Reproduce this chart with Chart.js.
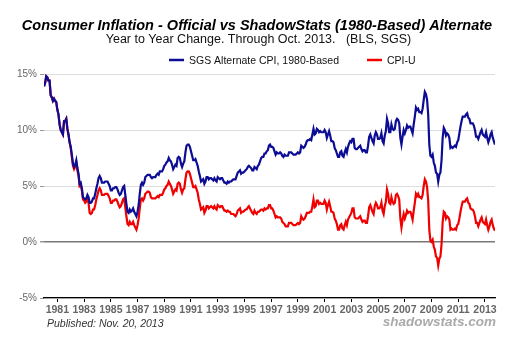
<!DOCTYPE html>
<html>
<head>
<meta charset="utf-8">
<script src="https://cdn.jsdelivr.net/npm/chart.js@4.4.1/dist/chart.umd.min.js"></script>
<style>
  html, body { margin: 0; padding: 0; background: #fff; }
  #wrap { width: 520px; height: 343px; }
</style>
</head>
<body>
<div id="wrap"><canvas id="chart"></canvas></div>
<script>
const titleText = 'Consumer Inflation - Official vs ShadowStats (1980-Based) Alternate'
const subtitleText = 'Year to Year Change. Through Oct. 2013.   (BLS, SGS)'
const seriesNames = ['SGS Alternate CPI, 1980-Based', 'CPI-U']
const tickYears = [1981, 1983, 1985, 1987, 1989, 1991, 1993, 1995, 1997, 1999, 2001, 2003, 2005, 2007, 2009, 2011, 2013]
const yTicks = [-5, 0, 5, 10, 15]

// monthly year-over-year change, Jan 1980 .. Oct 2013
const sgsAlt = [
  13.9, 14.2, 14.8, 14.7, 14.4, 14.4, 13.1, 12.9, 12.6, 12.8, 12.6, 12.5, // 1980
  11.8, 11.4, 10.5, 10.0, 9.8, 9.6, 10.8, 10.8, 11.0, 10.1, 9.6, 8.9,
  8.5, 7.8, 7.0, 6.7, 6.9, 7.3, 6.6, 6.1, 5.2, 5.3, 4.8, 4.0,
  3.9, 3.8, 3.9, 4.2, 4.0, 3.5, 3.5, 3.6, 3.9, 3.9, 4.3, 4.8,
  5.2, 5.7, 5.9, 5.7, 5.3, 5.3, 5.3, 5.4, 5.4, 5.4, 5.2, 5.0,
  4.6, 4.6, 4.8, 4.8, 4.9, 4.9, 4.7, 4.4, 4.2, 4.3, 4.6, 4.9, // 1985
  5.0, 4.2, 3.4, 2.7, 2.6, 2.9, 2.7, 2.8, 3.0, 2.7, 2.5, 2.3,
  2.7, 3.3, 4.3, 5.1, 5.3, 5.1, 5.3, 5.8, 5.9, 6.0, 6.0, 6.0,
  5.8, 5.7, 5.8, 5.8, 5.8, 6.0, 6.1, 6.0, 6.3, 6.3, 6.3, 6.5,
  6.8, 6.9, 7.1, 7.2, 7.5, 7.3, 7.2, 6.9, 6.5, 6.7, 6.9, 6.8,
  7.5, 7.6, 7.5, 7.0, 6.7, 7.0, 7.2, 8.0, 8.6, 8.7, 8.7, 8.5, // 1990
  8.1, 7.7, 7.3, 7.3, 7.4, 7.1, 6.8, 6.3, 5.9, 5.4, 5.5, 5.6,
  5.2, 5.4, 5.8, 5.8, 5.6, 5.7, 5.7, 5.6, 5.5, 5.7, 5.5, 5.4,
  5.8, 5.7, 5.6, 5.7, 5.7, 5.5, 5.3, 5.3, 5.2, 5.4, 5.3, 5.4,
  5.4, 5.5, 5.6, 5.6, 5.6, 5.9, 6.2, 6.3, 6.4, 6.1, 6.2, 6.2,
  6.3, 6.4, 6.5, 6.7, 6.8, 6.7, 6.6, 6.4, 6.4, 6.7, 6.6, 6.5, // 1995
  6.8, 6.9, 7.2, 7.5, 7.6, 7.6, 7.9, 7.9, 8.1, 8.2, 8.6, 8.7,
  8.5, 8.5, 8.4, 8.1, 7.8, 8.0, 7.9, 7.9, 8.0, 7.9, 7.7, 7.6,
  7.8, 7.7, 7.7, 7.7, 8.0, 8.0, 8.0, 7.9, 7.8, 7.8, 7.8, 7.9,
  8.0, 7.9, 8.0, 8.6, 8.5, 8.4, 8.5, 8.7, 9.0, 9.1, 9.1, 9.2,
  9.1, 9.6, 10.1, 9.6, 9.7, 10.1, 10.0, 9.8, 9.9, 9.8, 9.8, 9.8, // 2000
  10.0, 9.8, 9.3, 9.6, 9.9, 9.5, 9.0, 9.0, 8.9, 8.4, 8.2, 7.9,
  7.6, 7.6, 8.0, 8.1, 7.7, 7.6, 8.0, 8.3, 8.0, 8.5, 8.8, 9.0,
  8.9, 9.2, 9.2, 8.4, 8.3, 8.3, 8.4, 8.5, 8.6, 8.3, 8.1, 8.2,
  8.2, 8.0, 8.0, 8.6, 9.4, 9.6, 9.3, 9.0, 8.8, 9.5, 9.8, 9.6,
  9.2, 9.2, 9.3, 9.7, 9.0, 8.8, 9.5, 9.9, 11.0, 10.6, 9.8, 9.8, // 2005
  10.5, 10.1, 10.0, 10.1, 10.8, 11.0, 10.9, 10.6, 9.3, 8.7, 9.4, 10.0,
  9.7, 10.0, 10.4, 10.2, 10.3, 10.3, 10.0, 9.7, 10.5, 11.2, 12.0, 11.8,
  11.9, 11.6, 11.6, 11.5, 11.9, 12.7, 13.4, 13.2, 12.7, 11.4, 8.7, 7.7,
  7.6, 7.8, 7.1, 6.8, 6.2, 6.1, 5.4, 6.0, 6.2, 7.3, 9.3, 10.2,
  10.0, 9.5, 9.7, 9.6, 9.3, 8.4, 8.5, 8.4, 8.5, 8.6, 8.5, 8.9, // 2010
  9.1, 9.7, 10.3, 10.8, 11.2, 11.2, 11.2, 11.4, 11.5, 11.1, 11.0, 10.6,
  10.6, 10.6, 10.4, 10.0, 9.4, 9.4, 9.2, 9.5, 9.8, 10.0, 9.6, 9.5,
  9.4, 9.8, 9.3, 8.9, 9.2, 9.6, 9.8, 9.3, 9.0, 8.7
]

const cpiU = [
  13.9, 14.2, 14.8, 14.7, 14.4, 14.4, 13.1, 12.9, 12.6, 12.8, 12.6, 12.5, // 1980
  11.8, 11.4, 10.5, 10.0, 9.8, 9.6, 10.8, 10.8, 11.0, 10.1, 9.6, 8.9,
  8.4, 7.6, 6.8, 6.5, 6.7, 7.1, 6.4, 5.9, 5.0, 5.1, 4.6, 3.8,
  3.7, 3.5, 3.6, 3.9, 3.5, 2.6, 2.5, 2.6, 2.9, 2.9, 3.3, 3.8,
  4.2, 4.6, 4.8, 4.6, 4.2, 4.2, 4.2, 4.3, 4.3, 4.3, 4.1, 3.9,
  3.5, 3.5, 3.7, 3.7, 3.8, 3.8, 3.6, 3.3, 3.1, 3.2, 3.5, 3.8, // 1985
  3.9, 3.1, 2.3, 1.6, 1.5, 1.8, 1.6, 1.6, 1.8, 1.5, 1.3, 1.1,
  1.5, 2.1, 3.0, 3.8, 3.9, 3.7, 3.9, 4.3, 4.4, 4.5, 4.5, 4.4,
  4.0, 3.9, 3.9, 3.9, 3.9, 4.0, 4.1, 4.0, 4.2, 4.2, 4.2, 4.4,
  4.7, 4.8, 5.0, 5.1, 5.4, 5.2, 5.0, 4.7, 4.3, 4.5, 4.7, 4.6,
  5.2, 5.3, 5.2, 4.7, 4.4, 4.7, 4.8, 5.6, 6.2, 6.3, 6.3, 6.1, // 1990
  5.7, 5.3, 4.9, 4.9, 5.0, 4.7, 4.4, 3.8, 3.4, 2.9, 3.0, 3.1,
  2.6, 2.8, 3.2, 3.2, 3.0, 3.1, 3.2, 3.1, 3.0, 3.2, 3.0, 2.9,
  3.3, 3.2, 3.1, 3.2, 3.2, 3.0, 2.8, 2.8, 2.7, 2.8, 2.7, 2.7,
  2.5, 2.5, 2.5, 2.4, 2.3, 2.5, 2.8, 2.9, 3.0, 2.6, 2.7, 2.7,
  2.8, 2.9, 2.9, 3.1, 3.2, 3.0, 2.8, 2.6, 2.5, 2.8, 2.6, 2.5, // 1995
  2.7, 2.7, 2.8, 2.9, 2.9, 2.8, 3.0, 2.9, 3.0, 3.0, 3.3, 3.3,
  3.0, 3.0, 2.8, 2.5, 2.2, 2.3, 2.2, 2.2, 2.2, 2.1, 1.8, 1.7,
  1.6, 1.4, 1.4, 1.4, 1.7, 1.7, 1.7, 1.6, 1.5, 1.5, 1.5, 1.6,
  1.7, 1.6, 1.7, 2.3, 2.1, 2.0, 2.1, 2.3, 2.6, 2.6, 2.6, 2.7,
  2.7, 3.2, 3.8, 3.1, 3.2, 3.7, 3.7, 3.4, 3.5, 3.4, 3.4, 3.4, // 2000
  3.7, 3.5, 2.9, 3.3, 3.6, 3.2, 2.7, 2.7, 2.6, 2.1, 1.9, 1.6,
  1.1, 1.1, 1.5, 1.6, 1.2, 1.1, 1.5, 1.8, 1.5, 2.0, 2.2, 2.4,
  2.6, 3.0, 3.0, 2.2, 2.1, 2.1, 2.1, 2.2, 2.3, 2.0, 1.8, 1.9,
  1.9, 1.7, 1.7, 2.3, 3.1, 3.3, 3.0, 2.7, 2.5, 3.2, 3.5, 3.3,
  3.0, 3.0, 3.1, 3.5, 2.8, 2.5, 3.2, 3.6, 4.7, 4.3, 3.5, 3.4, // 2005
  4.0, 3.6, 3.4, 3.5, 4.2, 4.3, 4.1, 3.8, 2.1, 1.3, 2.0, 2.5,
  2.1, 2.4, 2.8, 2.6, 2.7, 2.7, 2.4, 2.0, 2.8, 3.5, 4.3, 4.1,
  4.3, 4.0, 4.0, 3.9, 4.2, 5.0, 5.6, 5.4, 4.9, 3.7, 1.1, 0.1,
  0.0, 0.2, -0.4, -0.7, -1.3, -1.4, -2.1, -1.5, -1.3, -0.2, 1.8, 2.7,
  2.6, 2.1, 2.3, 2.2, 2.0, 1.1, 1.2, 1.1, 1.1, 1.2, 1.1, 1.5, // 2010
  1.6, 2.1, 2.7, 3.2, 3.6, 3.6, 3.6, 3.8, 3.9, 3.5, 3.4, 3.0,
  2.9, 2.9, 2.7, 2.3, 1.7, 1.7, 1.4, 1.7, 2.0, 2.2, 1.8, 1.7,
  1.6, 2.0, 1.5, 1.1, 1.4, 1.8, 2.0, 1.5, 1.2, 1.0
]

// month positions as fractional years
const months = cpiU.map((v, i) => 1980 + i / 12)

const blue = '#0c0c94'
const red = '#f00000'

const toPoints = (values) => values.map((v, i) => ({ x: months[i], y: v }))

const textPlugin = {
  id: 'texts',
  afterDraw(chart) {
    const ctx = chart.ctx
    ctx.save()
    ctx.textBaseline = 'alphabetic'
    ctx.fillStyle = '#000'
    ctx.textAlign = 'center'
    ctx.font = 'italic bold 14.5px "Liberation Sans", Arial, sans-serif'
    ctx.fillText(titleText, 257, 29.5)
    ctx.font = '12.5px "Liberation Sans", Arial, sans-serif'
    ctx.fillStyle = '#111'
    ctx.fillText(subtitleText, 258.5, 43)

    // legend
    ctx.textAlign = 'left'
    ctx.font = '10.5px "Liberation Sans", Arial, sans-serif'
    const items = [
      { x: 169, color: blue, text: seriesNames[0] },
      { x: 367, color: red, text: seriesNames[1] },
    ]
    items.forEach((it) => {
      ctx.strokeStyle = it.color
      ctx.lineWidth = 2.5
      ctx.beginPath()
      ctx.moveTo(it.x, 60)
      ctx.lineTo(it.x + 15, 60)
      ctx.stroke()
      ctx.fillStyle = '#111'
      ctx.fillText(it.text, it.x + 20, 64)
    })

    // footer
    ctx.font = 'italic 10.5px "Liberation Sans", Arial, sans-serif'
    ctx.fillStyle = '#333'
    ctx.fillText('Published: Nov. 20, 2013', 47, 327)
    ctx.textAlign = 'right'
    ctx.font = 'italic bold 13.5px "Liberation Sans", Arial, sans-serif'
    ctx.fillStyle = '#aaa'
    ctx.fillText('shadowstats.com', 496, 326)
    ctx.restore()
  },
}

new Chart(document.getElementById('chart'), {
  type: 'line',
  data: {
    datasets: [
      {
        label: seriesNames[0],
        data: toPoints(sgsAlt),
        borderColor: blue,
        backgroundColor: blue,
        borderWidth: 2.2,
        pointRadius: 0,
      },
      {
        label: seriesNames[1],
        data: toPoints(cpiU),
        borderColor: red,
        backgroundColor: red,
        borderWidth: 2.2,
        pointRadius: 0,
      },
    ],
  },
  options: {
    responsive: true,
    maintainAspectRatio: false,
    animation: false,
    layout: { padding: { top: 74, right: 25, left: 0, bottom: 0 } },
    plugins: {
      legend: { display: false },
      title: { display: false },
      tooltip: { enabled: false },
    },
    scales: {
      x: {
        type: 'linear',
        min: 1980,
        max: 2013.75,
        afterBuildTicks: (scale) => {
          scale.ticks = tickYears.map((y) => ({ value: y }))
        },
        afterFit: (scale) => {
          scale.height = 45
        },
        ticks: {
          autoSkip: false,
          maxRotation: 0,
          padding: 2,
          color: '#666',
          font: { family: '"Liberation Sans", Arial, sans-serif', size: 10.5, weight: 'bold' },
          callback: (v) => String(v),
        },
        grid: { display: true, drawOnChartArea: false, drawTicks: true, tickLength: 4, tickColor: '#000' },
        border: { display: true, color: '#000', width: 1.2 },
      },
      y: {
        min: -5,
        max: 15,
        afterBuildTicks: (scale) => {
          scale.ticks = yTicks.map((v) => ({ value: v }))
        },
        afterFit: (scale) => {
          scale.width = 44
        },
        ticks: {
          padding: 3,
          color: '#666',
          font: { family: '"Liberation Sans", Arial, sans-serif', size: 10 },
          callback: (v) => v + '%',
        },
        grid: {
          drawTicks: true,
          tickLength: 4,
          tickColor: '#999',
          color: (c) => (c.tick && c.tick.value === 0 ? '#777' : '#ddd'),
          lineWidth: (c) => (c.tick && c.tick.value === 0 ? 1.5 : 1),
        },
        border: { display: false },
      },
    },
  },
  plugins: [textPlugin],
})
</script>
</body>
</html>
